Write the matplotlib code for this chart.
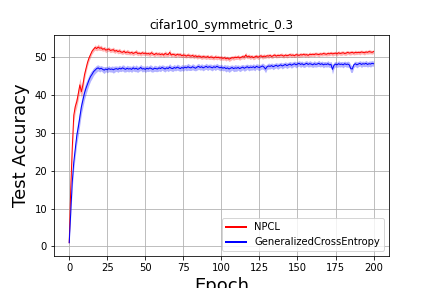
import numpy as np
import matplotlib
matplotlib.use("Agg")
import matplotlib.pyplot as plt

title = "cifar100_symmetric_0.3"
labels = ["NPCL", "GeneralizedCrossEntropy"]

# mean test accuracy per epoch (0..200)
npcl_mean = [
    1.0, 15.3, 26.0, 34.7, 37.0, 38.3, 40.5, 42.7, 40.9, 42.7,
    45.3, 47.0, 48.6, 49.8, 50.7, 51.6, 52.1, 52.6, 52.3, 52.7,
    52.4, 52.5, 52.1, 52.3, 51.9, 52.0, 52.2, 51.8, 51.9, 52.0,
    51.6, 51.8, 51.5, 51.7, 51.4, 51.3, 51.6, 51.2, 51.4, 51.3,
    51.1, 51.3, 51.0, 51.2, 51.4, 51.0, 51.1, 50.9, 51.2, 51.0,
    51.1, 50.9, 51.0, 50.8, 51.2, 50.9, 50.7, 51.0, 50.8, 50.9,
    50.7, 50.9, 50.6, 51.0, 50.8, 50.7, 51.3, 50.6, 50.8, 50.7,
    50.5, 50.8, 50.6, 50.7, 50.4, 50.6, 50.5, 50.3, 50.6, 50.4,
    50.3, 50.5, 50.2, 50.4, 50.1, 50.3, 50.2, 50.0, 50.2, 50.1,
    50.0, 50.2, 49.9, 50.1, 50.0, 49.8, 50.1, 49.9, 50.0, 49.8,
    49.9, 49.7, 49.9, 49.6, 49.8, 49.5, 49.7, 49.9, 49.8, 50.0,
    49.9, 50.1, 49.8, 50.0, 50.2, 50.0, 50.6, 50.1, 50.3, 50.0,
    50.2, 49.9, 50.1, 50.3, 50.0, 50.2, 50.4, 50.1, 50.3, 50.2,
    50.4, 50.3, 50.5, 50.2, 50.4, 50.6, 50.3, 50.5, 50.4, 50.6,
    50.5, 50.3, 50.6, 50.4, 50.5, 50.7, 50.5, 50.6, 50.4, 50.7,
    50.6, 50.5, 50.7, 50.6, 50.8, 50.6, 50.7, 50.5, 50.8, 50.7,
    50.8, 50.7, 50.9, 50.8, 50.7, 50.9, 50.8, 51.0, 50.9, 50.8,
    51.0, 50.9, 51.1, 50.9, 51.0, 51.1, 50.9, 51.2, 51.0, 51.1,
    51.2, 51.0, 51.1, 51.3, 51.1, 51.2, 51.3, 51.1, 51.3, 51.2,
    51.3, 51.2, 51.4, 51.3, 51.2, 51.4, 51.3, 51.5, 51.4, 51.3,
    51.5,
]
npcl_std = [
    0.1, 1.5, 2.0, 1.8, 1.5, 1.4, 1.6, 1.8, 1.5, 1.6,
    1.2, 1.0, 0.9, 0.8, 0.7, 0.7, 0.6, 0.7, 0.6, 0.8,
    0.6, 0.7, 0.5, 0.6, 0.7, 0.5, 0.6, 0.6, 0.5, 0.7,
    0.6, 0.5, 0.6, 0.7, 0.5, 0.6, 0.6, 0.5, 0.7, 0.6,
    0.5, 0.6, 0.6, 0.5, 0.7, 0.6, 0.5, 0.6, 0.6, 0.5,
    0.6, 0.5, 0.6, 0.6, 0.7, 0.5, 0.6, 0.6, 0.5, 0.6,
    0.6, 0.5, 0.6, 0.7, 0.6, 0.5, 0.8, 0.6, 0.5, 0.6,
    0.6, 0.5, 0.6, 0.6, 0.5, 0.6, 0.6, 0.5, 0.6, 0.6,
    0.5, 0.6, 0.6, 0.5, 0.6, 0.6, 0.5, 0.6, 0.6, 0.5,
    0.6, 0.6, 0.5, 0.6, 0.6, 0.5, 0.6, 0.6, 0.5, 0.6,
    0.6, 0.5, 0.6, 0.6, 0.5, 0.6, 0.6, 0.5, 0.6, 0.6,
    0.5, 0.6, 0.6, 0.5, 0.6, 0.6, 0.7, 0.5, 0.6, 0.6,
    0.5, 0.6, 0.6, 0.5, 0.6, 0.6, 0.5, 0.6, 0.6, 0.5,
    0.5, 0.6, 0.5, 0.5, 0.6, 0.5, 0.5, 0.6, 0.5, 0.5,
    0.6, 0.5, 0.5, 0.6, 0.5, 0.5, 0.6, 0.5, 0.5, 0.6,
    0.5, 0.5, 0.6, 0.5, 0.5, 0.6, 0.5, 0.5, 0.6, 0.5,
    0.5, 0.6, 0.5, 0.5, 0.6, 0.5, 0.5, 0.6, 0.5, 0.5,
    0.6, 0.5, 0.5, 0.6, 0.5, 0.5, 0.6, 0.5, 0.5, 0.6,
    0.5, 0.5, 0.6, 0.5, 0.5, 0.6, 0.5, 0.5, 0.6, 0.5,
    0.5, 0.6, 0.5, 0.5, 0.6, 0.5, 0.5, 0.6, 0.5, 0.5,
    0.5,
]
gce_mean = [
    1.0, 9.0, 17.0, 22.3, 25.9, 29.4, 31.6, 34.3, 36.9, 38.7,
    40.5, 41.8, 42.9, 44.0, 44.9, 45.5, 46.2, 46.6, 47.0, 47.2,
    46.9, 47.1, 46.8, 46.6, 46.9, 46.7, 47.0, 46.8, 46.9, 46.7,
    46.9, 47.0, 46.8, 47.1, 46.9, 47.2, 47.0, 46.8, 47.1, 46.9,
    47.0, 46.8, 47.2, 46.9, 47.1, 46.8, 47.0, 47.3, 46.9, 47.0,
    46.8, 47.1, 46.9, 47.2, 47.0, 46.8, 47.1, 47.0, 46.9, 47.2,
    47.0, 47.3, 47.1, 46.9, 47.2, 47.0, 47.4, 47.1, 47.0, 47.3,
    47.1, 47.4, 47.2, 47.0, 47.3, 47.1, 47.4, 47.2, 47.5, 47.3,
    47.2, 47.5, 47.3, 47.1, 47.4, 47.6, 47.3, 47.5, 47.2, 47.4,
    47.6, 47.3, 47.5, 47.4, 47.2, 47.5, 47.3, 47.6, 47.4, 47.2,
    47.4, 47.1, 47.3, 47.0, 47.2, 46.9, 47.1, 47.3, 47.0, 47.2,
    47.1, 47.3, 47.0, 47.2, 47.4, 47.1, 47.3, 47.5, 47.2, 47.4,
    47.3, 47.5, 47.2, 47.6, 47.4, 47.3, 47.5, 47.7, 47.4, 46.9,
    47.5, 47.7, 47.6, 47.8, 47.5, 47.7, 47.9, 47.6, 47.8, 48.0,
    47.7, 47.9, 48.1, 47.8, 48.0, 48.2, 47.9, 48.1, 48.3, 48.0,
    48.2, 48.4, 48.1, 48.3, 48.0, 48.2, 48.4, 48.1, 48.3, 48.2,
    48.0, 48.3, 48.1, 48.2, 48.4, 48.1, 48.3, 48.0, 48.2, 48.1,
    48.3, 48.0, 48.1, 46.8, 47.9, 48.2, 48.0, 48.3, 48.1, 48.2,
    48.0, 48.3, 48.1, 48.2, 48.0, 47.0, 46.9, 48.0, 48.3, 48.0,
    48.2, 48.4, 48.1, 48.3, 48.2, 48.4, 48.1, 48.3, 48.2, 48.4,
    48.3,
]
gce_std = [
    0.1, 1.0, 1.5, 1.8, 2.0, 2.2, 2.1, 2.0, 1.9, 1.8,
    1.7, 1.6, 1.4, 1.3, 1.2, 1.1, 1.0, 0.9, 0.9, 0.8,
    0.8, 0.7, 0.8, 0.9, 0.7, 0.8, 0.8, 0.7, 0.8, 0.9,
    0.8, 0.7, 0.8, 0.8, 0.7, 0.8, 0.9, 0.7, 0.8, 0.8,
    0.7, 0.8, 0.8, 0.7, 0.9, 0.8, 0.7, 0.8, 0.8, 0.7,
    0.8, 0.8, 0.7, 0.8, 0.9, 0.7, 0.8, 0.8, 0.7, 0.8,
    0.8, 0.7, 0.8, 0.8, 0.7, 0.8, 0.9, 0.7, 0.8, 0.8,
    0.7, 0.8, 0.8, 0.7, 0.8, 0.8, 0.7, 0.8, 0.9, 0.8,
    0.7, 0.8, 0.8, 0.7, 0.8, 0.8, 0.7, 0.8, 0.8, 0.7,
    0.8, 0.8, 0.7, 0.8, 0.8, 0.7, 0.8, 0.8, 0.7, 0.8,
    0.8, 0.7, 0.8, 0.9, 0.8, 0.9, 0.8, 0.7, 0.8, 0.9,
    0.8, 0.7, 0.8, 0.8, 0.7, 0.8, 0.8, 0.7, 0.8, 0.8,
    0.7, 0.8, 0.8, 0.7, 0.8, 0.8, 0.7, 0.8, 0.8, 1.0,
    0.7, 0.8, 0.7, 0.7, 0.8, 0.7, 0.7, 0.8, 0.7, 0.7,
    0.8, 0.7, 0.7, 0.8, 0.7, 0.7, 0.8, 0.7, 0.7, 0.8,
    0.7, 0.7, 0.8, 0.7, 0.7, 0.8, 0.7, 0.7, 0.8, 0.7,
    0.7, 0.8, 0.7, 0.7, 0.8, 0.7, 0.7, 0.8, 0.7, 0.7,
    0.8, 0.7, 0.8, 1.2, 0.8, 0.7, 0.7, 0.8, 0.7, 0.7,
    0.8, 0.7, 0.7, 0.8, 0.8, 1.0, 0.9, 0.7, 0.7, 0.8,
    0.7, 0.7, 0.8, 0.7, 0.7, 0.8, 0.7, 0.7, 0.8, 0.7,
    0.7,
]


def plot_curve(ax, mean, std, color, label):
    mean = np.array(mean)
    std = np.array(std)
    epochs = np.arange(len(mean))
    ax.fill_between(epochs, mean - std, mean + std, color=color, alpha=0.3, linewidth=0)
    ax.plot(epochs, mean, color=color, linewidth=1.0, label=label)


fig, ax = plt.subplots(figsize=(6, 4), dpi=72)
plot_curve(ax, npcl_mean, npcl_std, "red", labels[0])
plot_curve(ax, gce_mean, gce_std, "blue", labels[1])

ax.grid(True, color="#b0b0b0", linewidth=0.8)
ax.set_axisbelow(True)
ax.set_title(title, fontsize=12)
ax.set_xlabel("Epoch", fontsize=18)
ax.set_ylabel("Test Accuracy", fontsize=18)
ax.set_xticks([0, 25, 50, 75, 100, 125, 150, 175, 200])
ax.set_yticks([0, 10, 20, 30, 40, 50])
ax.set_ylim(-2.6, 56.0)

leg = ax.legend(loc="lower right", fontsize=10)
for line in leg.get_lines():
    line.set_linewidth(2.0)

fig.savefig("out.png", dpi=72)
